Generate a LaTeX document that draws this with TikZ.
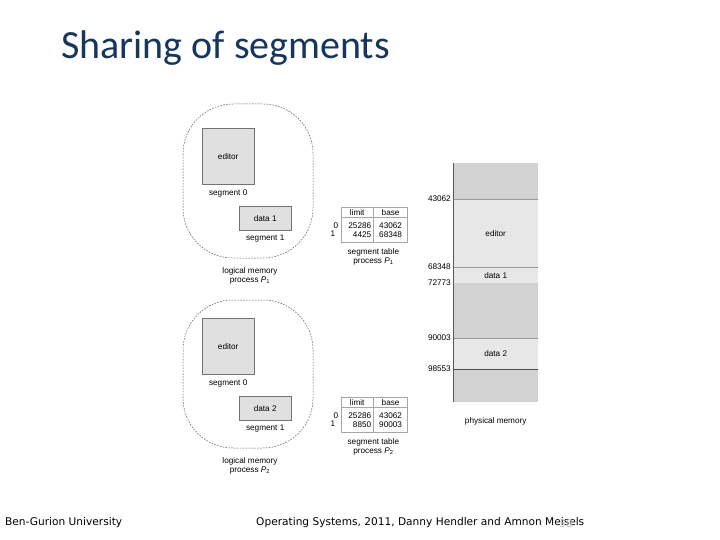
\documentclass[tikz,border=0pt]{standalone}
\usepackage{fontspec}
\setmainfont{Liberation Sans}
\newfontfamily\titlefont{Carlito}
\newfontfamily\footfont{DejaVu Sans}
\usepackage{xcolor}
\usetikzlibrary{positioning}
\definecolor{titleblue}{HTML}{17365D}
\definecolor{memdark}{HTML}{D2D2D2}
\definecolor{memlight}{HTML}{E7E7E7}
\definecolor{segfill}{HTML}{E0E0E0}

\begin{document}
\begin{tikzpicture}[x=1pt, y=-1pt,
  font=\fontsize{8.2}{8.8}\selectfont,
  seg/.style={draw=gray!90!black, fill=segfill, inner sep=0pt, anchor=north west},
  blob/.style={draw=gray!70!black, dash pattern=on 1.6pt off 1.3pt, line width=0.5pt,
    rounded corners=50pt},
  cell/.style={draw=gray!70, inner sep=0pt, minimum height=10pt},
  lbl/.style={align=center, inner sep=0pt},
  band/.style={inner sep=0pt, anchor=north west, minimum width=85pt},
  addr/.style={inner sep=0pt},
  foot/.style={anchor=west, inner sep=0pt, font=\footfont\fontsize{10.6}{11}\selectfont},
]
\path[use as bounding box, fill=white] (0,0) rectangle (720,540);

\node[anchor=base west, inner sep=0pt, text=titleblue,
  font=\titlefont\fontsize{40}{40}\selectfont] (title) at (61,59) {Sharing of segments};

% logical memory and segment tables of both processes
\foreach \p/\dy/\tp/\dat/\lim/\bas in {1/0/104/data 1/4425/68348, 2/190/300/data 2/8850/90003} {
  \draw[blob] (183,\tp) rectangle (313,258+\dy);
  \node[seg, minimum width=52pt, minimum height=56pt] (editor\p) at (202,128+\dy) {editor};
  \node[lbl, below=5pt of editor\p] (segzero\p) {segment 0};
  \node[seg, minimum width=52pt, minimum height=24pt] (data\p) at (239,206+\dy) {\dat};
  \node[lbl, below=4pt of data\p] (segone\p) {segment 1};
  \node[lbl] (logical\p) at (250,276+\dy) {logical memory\\process {\itshape P}\textsubscript{\p}};
  \node[cell, minimum width=32pt, anchor=north west] (limit\p) at (341,207+\dy) {limit};
  \node[cell, minimum width=34pt, right=0pt of limit\p] (base\p) {base};
  \node[cell, minimum width=32pt, minimum height=25pt, below=0pt of limit\p,
    align=right, text width=28pt] (lims\p) {25286\\\lim};
  \node[cell, minimum width=34pt, minimum height=25pt, below=0pt of base\p,
    align=center] (bases\p) {43062\\\bas};
  \node[addr] (idxzero\p) at (336,226+\dy) {0};
  \node[addr] (idxone\p) at (333,234+\dy) {1};
  \node[lbl, below=6pt of lims\p.south east] (table\p) {segment table\\process {\itshape P}\textsubscript{\p}};
}

% physical memory
\foreach \nm/\y/\h/\col/\txt in {top/163/36/memdark/, ed/199/68/memlight/editor,
    da/267/16/memlight/data 1, hole/283/55/memdark/, db/338/31/memlight/data 2,
    bot/369/33/memdark/}
  \node[band, fill=\col, minimum height=\h pt] (pm\nm) at (453,\y) {\txt};
\foreach \nm in {ed, da, db}
  \draw[gray!80] (pm\nm.north west) -- (pm\nm.north east);
\draw[gray!60!black, line width=0.6pt] (pmbot.north west) -- (pmbot.north east);
\draw[gray!70!black, line width=0.8pt] (pmtop.north west) -- (pmbot.south west);
\node[addr, left=2pt of pmed.north west] (addra) {43062};
\node[addr, left=2pt of pmda.north west] (addrb) {68348};
\node[addr, left=2pt of pmhole.north west] (addrc) {72773};
\node[addr, left=2pt of pmdb.north west] (addrd) {90003};
\node[addr, left=2pt of pmbot.north west] (addre) {98553};
\node[lbl, below=15pt of pmbot] (physical) {physical memory};

% footer
\node[foot] (uni) at (5,523) {Ben-Gurion University};
\node[foot] (course) at (256,523) {Operating Systems, 2011, Danny Hendler and Amnon Meisels};
\node[foot, text=gray!50] (page) at (559,524) {38};
\end{tikzpicture}
\end{document}
